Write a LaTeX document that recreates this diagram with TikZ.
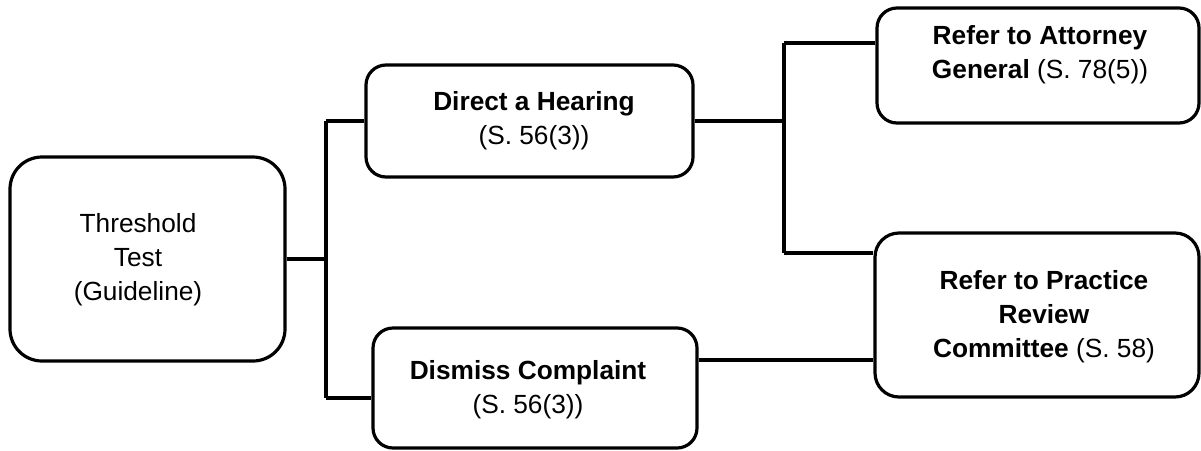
\documentclass[tikz,border=0pt]{standalone}
\usepackage{fontspec}
\setmainfont{Liberation Sans}
\begin{document}
\begin{tikzpicture}[x=0.75pt,y=-0.75pt,
  box/.style={draw, line width=2.4pt, inner sep=0pt},
  txt/.style={align=center, inner sep=0pt, font=\fontsize{19.7}{25.5}\selectfont},
  conn/.style={line width=2.3pt}]
\useasboundingbox (0,0) rectangle (1201,450);
\node[box, rounded corners=24pt, minimum width=206.25pt, minimum height=153pt] (thr) at (147.5,259) {};
\node[txt] (thrt) at (138,260) {Threshold\\Test\\(Guideline)};
\node[box, rounded corners=15pt, minimum width=245.25pt, minimum height=84pt] (dh) at (529.5,121) {};
\node[txt] (dht) at (534,121) {\textbf{Direct a Hearing}\\(S. 56(3))};
\node[box, rounded corners=15pt, minimum width=243pt, minimum height=90pt] (dc) at (535,388) {};
\node[txt] (dct) at (528,390) {\textbf{Dismiss Complaint}\\(S. 56(3))};
\node[box, rounded corners=15pt, minimum width=241.5pt, minimum height=86.25pt] (ag) at (1038,65.5) {};
\node[txt] (agt) at (1040,55) {\textbf{Refer to Attorney}\\\textbf{General} (S. 78(5))};
\node[box, rounded corners=18pt, minimum width=243pt, minimum height=123pt] (pr) at (1037,315) {};
\node[txt] (prt) at (1044,317) {\textbf{Refer to Practice}\\\textbf{Review}\\\textbf{Committee} (S. 58)};
\coordinate (j1) at (326,259);
\coordinate (j1t) at (326,121);
\coordinate (j1b) at (326,398);
\coordinate (j2) at (784,121);
\coordinate (j2t) at (784,43);
\coordinate (j2b) at (784,253);
\coordinate (k) at (740,360);
\draw[conn] (thr.east) -- (j1);
\draw[conn] (j1t) -- (j1b);
\draw[conn] (j1t) -- (dh.west);
\draw[conn] (j1b) -- (j1b -| dc.west);
\draw[conn] (dh.east) -- (j2);
\draw[conn] (j2t) -- (j2b);
\draw[conn] (j2t) -- (j2t -| ag.west);
\draw[conn] (j2b) -- (j2b -| pr.west);
\draw[conn] (k -| dc.east) -- (k -| pr.west);
\end{tikzpicture}
\end{document}
